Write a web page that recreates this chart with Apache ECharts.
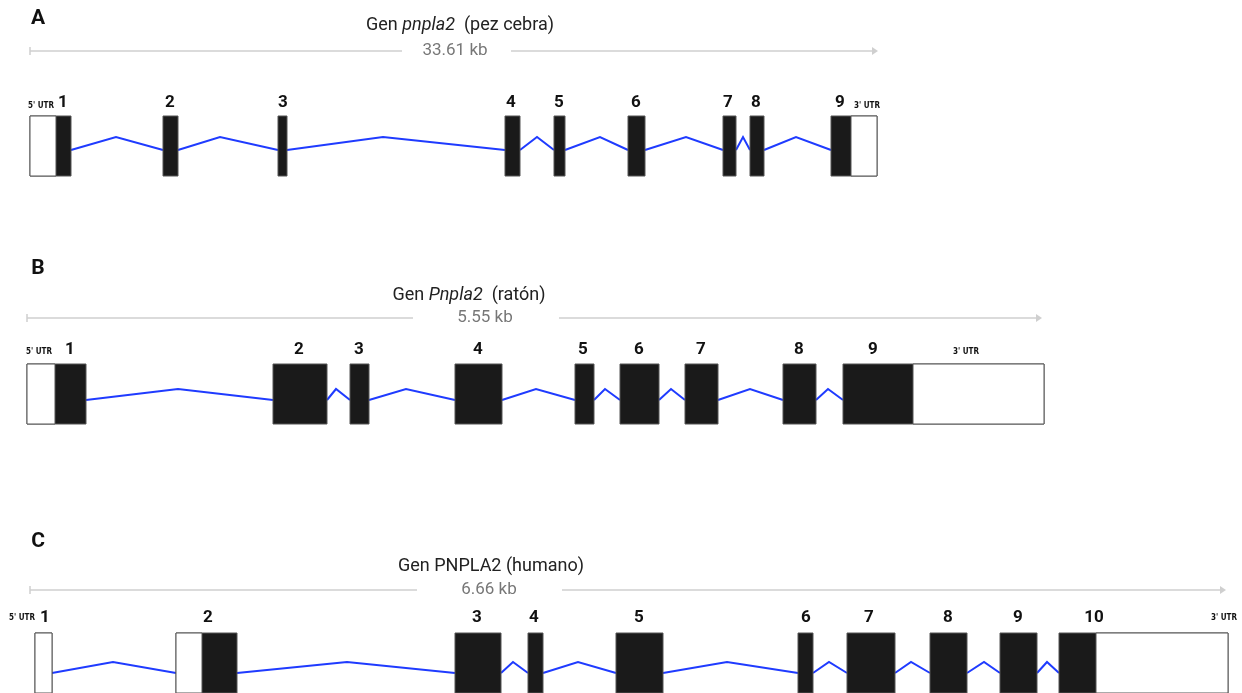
<!DOCTYPE html>
<html>
<head>
<meta charset="utf-8">
<script src="https://cdn.jsdelivr.net/npm/echarts@6/dist/echarts.min.js"></script>
<style>
  html, body { margin: 0; padding: 0; background: #fff; }
  #chart { width: 1242px; height: 693px; }
</style>
</head>
<body>
<div id="chart"></div>
<script>
// posiciones de exones (inicio / fin) en la escala del dibujo, UTR incluidas
const exonStartA = [30, 163, 278, 505, 554, 628, 723, 750, 831];
const exonEndA   = [71, 178, 287, 520, 565, 645, 736, 764, 877];
const utrA       = [[30, 56], [851, 877]];
const peakA      = [116, 220, 383, 537, 600, 686, 743, 796];
const labelA     = [63, 170, 283, 511, 559, 636, 728, 756, 840];

const exonStartB = [27, 273, 350, 455, 575, 620, 685, 783, 843];
const exonEndB   = [86, 327, 369, 502, 594, 659, 718, 816, 1044];
const utrB       = [[27, 55], [913, 1044]];
const peakB      = [178, 336, 406, 536, 605, 671, 750, 828];
const labelB     = [70, 299, 359, 478, 583, 639, 701, 799, 873];

const exonStartC = [35, 176, 455, 528, 616, 798, 847, 930, 1000, 1059];
const exonEndC   = [52, 237, 501, 543, 663, 813, 895, 967, 1037, 1228];
const utrC       = [[35, 52], [176, 202], [1096, 1228]];
const peakC      = [113, 347, 513, 578, 727, 829, 911, 984, 1047];
const labelC     = [45, 208, 477, 534, 639, 806, 869, 948, 1018, 1094];

// longitud de cada gen (barra de escala)
const scaleA = [30, 878];
const scaleB = [27, 1042];
const scaleC = [30, 1226];

// layout de cada fila
const panels = [
  { letter: 'A', letterY: 19, title: 'Gen {i|pnpla2}  (pez cebra)', titleX: 460, titleY: 25,
    kb: '33.61 kb', kbX: 455, kbGap: [402, 511], scale: scaleA, scaleY: 51,
    top: 116, bottom: 176, base: 150, peak: 137, labelY: 103, utrLabelY: 106,
    starts: exonStartA, ends: exonEndA, utr: utrA, peaks: peakA, labels: labelA,
    utr5X: 41, utr3X: 867 },
  { letter: 'B', letterY: 269, title: 'Gen {i|Pnpla2}  (ratón)', titleX: 469, titleY: 295,
    kb: '5.55 kb', kbX: 485, kbGap: [413, 559], scale: scaleB, scaleY: 318,
    top: 364, bottom: 424, base: 400, peak: 389, labelY: 350, utrLabelY: 352,
    starts: exonStartB, ends: exonEndB, utr: utrB, peaks: peakB, labels: labelB,
    utr5X: 39, utr3X: 966 },
  { letter: 'C', letterY: 542, title: 'Gen PNPLA2 (humano)', titleX: 491, titleY: 566,
    kb: '6.66 kb', kbX: 489, kbGap: [417, 562], scale: scaleC, scaleY: 590,
    top: 633, bottom: 693, base: 673, peak: 662, labelY: 618, utrLabelY: 618,
    starts: exonStartC, ends: exonEndC, utr: utrC, peaks: peakC, labels: labelC,
    utr5X: 22, utr3X: 1224 }
];

const FONT = 'Roboto, "Noto Sans", sans-serif';
const NARROW = '"Liberation Sans Narrow", "DejaVu Sans Condensed", sans-serif';

function exonSeries(p) {
  return {
    type: 'custom',
    silent: true,
    data: p.starts.map((s, i) => [s, p.ends[i]]),
    renderItem: (params, api) => {
      const a = api.coord([api.value(0), p.top]);
      const b = api.coord([api.value(1), p.bottom]);
      return {
        type: 'rect',
        shape: { x: a[0], y: a[1], width: b[0] - a[0], height: b[1] - a[1] },
        style: { fill: '#1a1a1a', stroke: '#555', lineWidth: 1 }
      };
    }
  };
}

function utrSeries(p) {
  return {
    type: 'custom',
    silent: true,
    data: p.utr,
    renderItem: (params, api) => {
      const a = api.coord([api.value(0), p.top]);
      const b = api.coord([api.value(1), p.bottom]);
      return {
        type: 'rect',
        shape: { x: a[0], y: a[1], width: b[0] - a[0], height: b[1] - a[1] },
        style: { fill: '#fff', stroke: '#555', lineWidth: 1 }
      };
    }
  };
}

function intronSeries(p) {
  return {
    type: 'custom',
    silent: true,
    data: p.peaks.map((k, i) => [p.ends[i], k, p.starts[i + 1]]),
    renderItem: (params, api) => {
      return {
        type: 'polyline',
        shape: { points: [
          api.coord([api.value(0), p.base]),
          api.coord([api.value(1), p.peak]),
          api.coord([api.value(2), p.base])
        ] },
        style: { fill: null, stroke: '#1f3bff', lineWidth: 2 }
      };
    }
  };
}

function labelSeries(p) {
  return {
    type: 'custom',
    silent: true,
    data: p.labels.map((x, i) => [x, i + 1]),
    renderItem: (params, api) => {
      const c = api.coord([api.value(0), p.labelY]);
      return {
        type: 'text',
        x: c[0], y: c[1],
        style: {
          text: String(api.value(1)), align: 'center', verticalAlign: 'middle',
          fontSize: 17, fontWeight: 'bold', fontFamily: FONT, fill: '#111'
        }
      };
    }
  };
}

const graphics = [];
panels.forEach(p => {
  graphics.push({ type: 'text', x: 38, y: p.letterY,
    style: { text: p.letter, align: 'center', verticalAlign: 'middle', fontSize: 21,
      fontWeight: 'bold', fontFamily: FONT, fill: '#111' } });
  graphics.push({ type: 'text', x: p.titleX, y: p.titleY,
    style: { text: p.title, align: 'center', verticalAlign: 'middle', fontSize: 18,
      fontFamily: FONT, fill: '#222', rich: { i: { fontStyle: 'italic', fontSize: 18, fontFamily: FONT, fill: '#222' } } } });
  graphics.push({ type: 'text', x: p.kbX, y: p.scaleY,
    style: { text: p.kb, align: 'center', verticalAlign: 'middle', fontSize: 17,
      fontFamily: FONT, fill: '#777' } });
  const y = p.scaleY;
  const line = { stroke: '#cfcfcf', lineWidth: 1.5 };
  graphics.push({ type: 'line', shape: { x1: p.scale[0], y1: y, x2: p.kbGap[0], y2: y }, style: line });
  graphics.push({ type: 'line', shape: { x1: p.kbGap[1], y1: y, x2: p.scale[1] - 4, y2: y }, style: line });
  graphics.push({ type: 'line', shape: { x1: p.scale[0], y1: y - 4, x2: p.scale[0], y2: y + 4 }, style: line });
  graphics.push({ type: 'polygon', shape: { points: [[p.scale[1] - 6, y - 4], [p.scale[1], y], [p.scale[1] - 6, y + 4]] },
    style: { fill: '#cfcfcf' } });
  graphics.push({ type: 'text', x: p.utr5X, y: p.utrLabelY,
    style: { text: "5' UTR", align: 'center', verticalAlign: 'middle', fontSize: 8,
      fontWeight: 'bold', fontFamily: NARROW, fill: '#111' } });
  graphics.push({ type: 'text', x: p.utr3X, y: p.utrLabelY,
    style: { text: "3' UTR", align: 'center', verticalAlign: 'middle', fontSize: 8,
      fontWeight: 'bold', fontFamily: NARROW, fill: '#111' } });
});

const series = [];
panels.forEach(p => {
  series.push(intronSeries(p), exonSeries(p), utrSeries(p), labelSeries(p));
});

const chart = echarts.init(document.getElementById('chart'));
chart.setOption({
  animation: false,
  backgroundColor: '#fff',
  grid: { left: 0, right: 0, top: 0, bottom: 0 },
  xAxis: { type: 'value', min: 0, max: 1242, show: false },
  yAxis: { type: 'value', min: 0, max: 693, inverse: true, show: false },
  graphic: graphics,
  series: series
});
</script>
</body>
</html>
